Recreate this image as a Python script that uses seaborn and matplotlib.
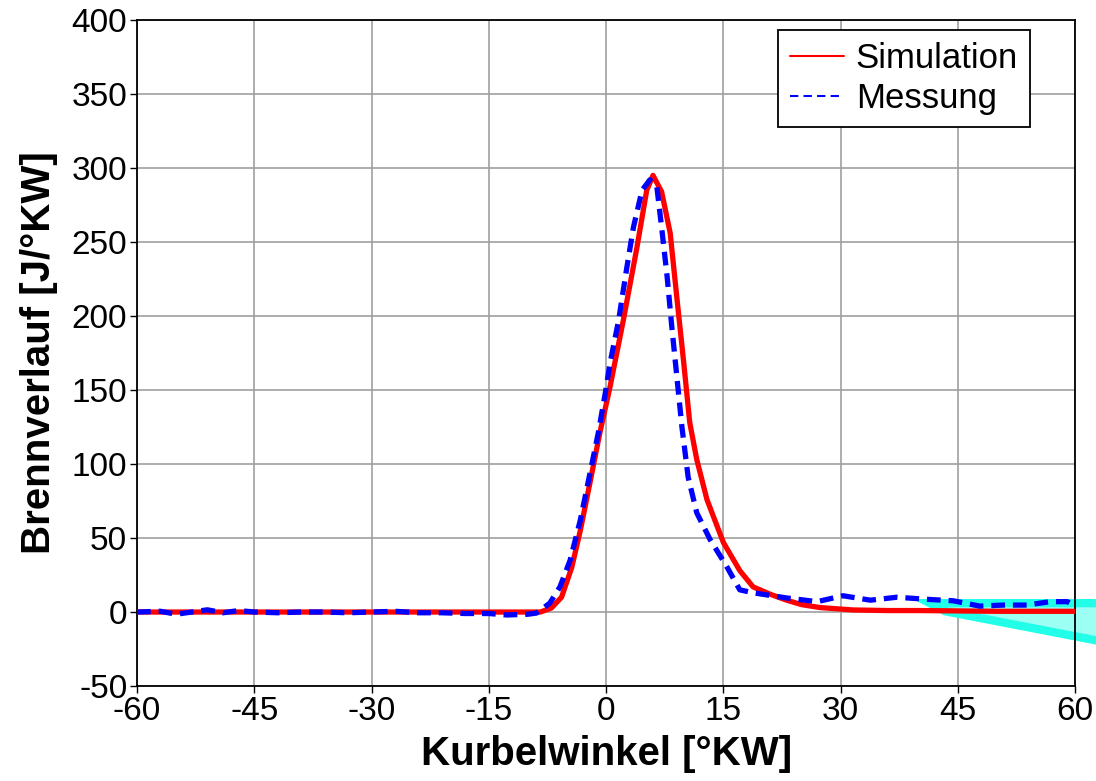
import numpy as np
import pandas as pd
import matplotlib
matplotlib.use("Agg")
import matplotlib.pyplot as plt
import seaborn as sns
from matplotlib.lines import Line2D
from matplotlib.patches import Polygon

# ---- data ----
sim_x = [-60, -50, -40, -30, -20, -10, -8.4, -7.0, -5.7, -4.4, -3.3, -2.0, -0.8, 0.5, 2.2, 3.9,
         5.2, 6.0, 7.1, 8.2, 9.0, 9.9, 10.7, 11.6, 12.9, 15.0, 17.1, 18.8, 21.0, 23.1, 25.0,
         27.4, 31.6, 36.0, 40.0, 50.0, 60.0]
sim_y = [0, 0, 0, 0, 0, 0, 0, 2.7, 10, 30, 55, 89, 121, 152, 197, 245,
         285, 295, 284, 256, 215, 170, 128, 103, 76, 47, 28, 17, 12, 8, 5,
         3, 1.4, 1, 1, 0.5, 0.5]

mes_x = [-60, -57, -55, -53, -51, -49, -47, -45, -42, -39, -36, -33, -30, -27, -24, -21,
         -18, -15, -12.7, -10, -8.9, -7.2, -5.9, -4.6, -3.3, -2.05, -1.0, -0.1, 0.5, 1.6,
         2.6, 3.5, 4.6, 5.6, 6.5, 7.1, 7.8, 8.4, 9.05, 9.7, 10.5, 11.6, 13.3, 15.4, 17.1,
         18.8, 23.1, 27.0, 30.3, 33.8, 37.2, 41.0, 44.4, 47.8, 50.8, 53.8, 56.8, 59.0, 60.0]
mes_y = [0, 0.5, -1.5, 0, 1.5, -0.5, 1, 0, -0.5, 0, 0, -0.5, 0, 0.5, -0.5, -0.5,
         -1, -1, -2, -1.5, -0.7, 6, 17, 35, 62, 94, 121, 148, 168, 197,
         231, 260, 285, 292, 287, 260, 227, 193, 159, 125, 91, 67, 49, 31, 15,
         13, 9.5, 7, 11, 8, 10, 8.6, 7.6, 4, 4.7, 4.7, 7, 7, 4]

x_ticks = [-60, -45, -30, -15, 0, 15, 30, 45, 60]
y_ticks = [-50, 0, 50, 100, 150, 200, 250, 300, 350, 400]
label_sim = "Simulation"
label_mes = "Messung"
x_label = "Kurbelwinkel [°KW]"
y_label = "Brennverlauf [J/°KW]"

sim_df = pd.DataFrame({"x": sim_x, "y": sim_y})
mes_df = pd.DataFrame({"x": mes_x, "y": mes_y})

sns.set_style("white")
plt.rcParams["font.family"] = ["Liberation Sans", "DejaVu Sans"]
plt.rcParams["axes.unicode_minus"] = False
plt.rcParams["text.color"] = "black"
plt.rcParams["axes.labelcolor"] = "black"
plt.rcParams["xtick.color"] = "black"
plt.rcParams["ytick.color"] = "black"

fig = plt.figure(figsize=(10.96, 7.81), dpi=100)
ax = fig.add_axes([0.125, 0.1216, 0.856, 0.8528])

# cyan decoration at the lower right (extends past the axes)
poly = Polygon([[41.4, 6.0], [63.5, 6.0], [63.5, -20.0], [43.4, 0.5]], closed=True,
               facecolor="#9bfff4", edgecolor="#22ffe8", linewidth=6,
               clip_on=False, zorder=1.5)
ax.add_patch(poly)

sns.lineplot(data=sim_df, x="x", y="y", ax=ax, color="#ff0000", linewidth=3.8,
             sort=False, zorder=3)
sns.lineplot(data=mes_df, x="x", y="y", ax=ax, color="#0000ff", linewidth=3.8,
             sort=False, zorder=4, dashes=False)
ax.lines[-1].set_dashes([2.6, 1.5])

ax.set_xlim(-60, 60)
ax.set_ylim(-50, 400)
ax.set_xticks(x_ticks)
ax.set_yticks(y_ticks)
ax.tick_params(axis="both", labelsize=24, direction="out", length=5, width=1,
               color="black", labelcolor="black", left=True, bottom=True, pad=2)
ax.grid(True, color="#a0a0a0", linewidth=1.2)
ax.set_axisbelow(True)
for s in ax.spines.values():
    s.set_color("black")
    s.set_linewidth(1.3)
    s.set_visible(True)

ax.set_xlabel(x_label, fontsize=29, fontweight="bold", labelpad=6, color="black")
ax.set_ylabel(y_label, fontsize=29, fontweight="bold", labelpad=10, color="black")

handles = [Line2D([], [], color="#ff0000", linewidth=1.5),
           Line2D([], [], color="#0000ff", linewidth=1.5, dashes=[4, 2.5])]
leg = ax.legend(handles, [label_sim, label_mes], loc="upper right",
                bbox_to_anchor=(0.952, 0.985), borderaxespad=0, fontsize=25,
                frameon=True, fancybox=False, framealpha=1, edgecolor="black",
                handlelength=1.55, handletextpad=0.35, labelspacing=0.2,
                borderpad=0.35)
leg.get_frame().set_linewidth(1.3)
for t in leg.get_texts():
    t.set_color("black")

fig.savefig("out.png", dpi=100)
